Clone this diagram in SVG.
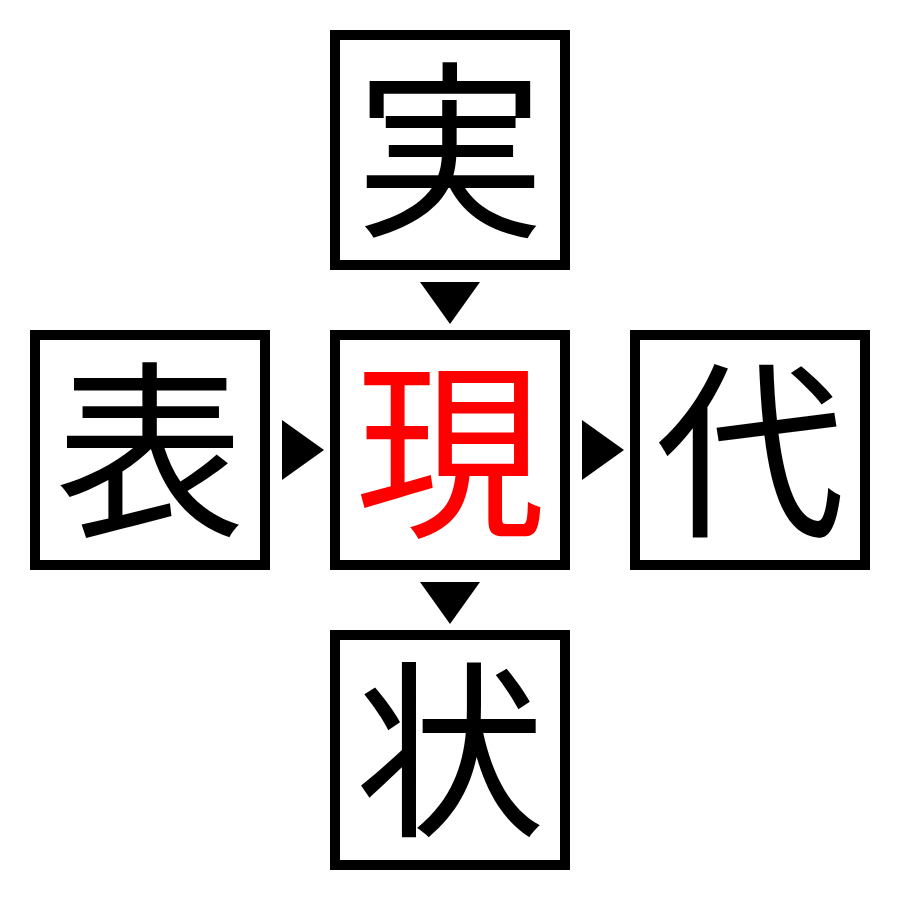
<svg xmlns="http://www.w3.org/2000/svg" width="900" height="900" viewBox="0 0 900 900">
<style>
.box{fill:#fff;stroke:#000;stroke-width:10}
.ch{font-family:"Noto Sans CJK JP","Noto Sans CJK SC",sans-serif;font-size:190px;text-anchor:middle;fill:#000}
.red{fill:#f00}
.arr{fill:#000}
</style>
<rect width="900" height="900" fill="#fff"/>
<g id="n-top"><rect class="box" x="335" y="35" width="230" height="230"/><text class="ch" x="450" y="222">実</text></g>
<g id="n-left"><rect class="box" x="35" y="335" width="230" height="230"/><text class="ch" x="150" y="522">表</text></g>
<g id="n-center"><rect class="box" x="335" y="335" width="230" height="230"/><text class="ch red" x="450" y="522">現</text></g>
<g id="n-right"><rect class="box" x="635" y="335" width="230" height="230"/><text class="ch" x="750" y="522">代</text></g>
<g id="n-bottom"><rect class="box" x="335" y="635" width="230" height="230"/><text class="ch" x="450" y="822">状</text></g>
<g id="connectors">
<polygon class="arr" points="420,282 480,282 450,324"/>
<polygon class="arr" points="420,582 480,582 450,624"/>
<polygon class="arr" points="282,420 282,480 324,450"/>
<polygon class="arr" points="582,420 582,480 624,450"/>
</g>
</svg>
